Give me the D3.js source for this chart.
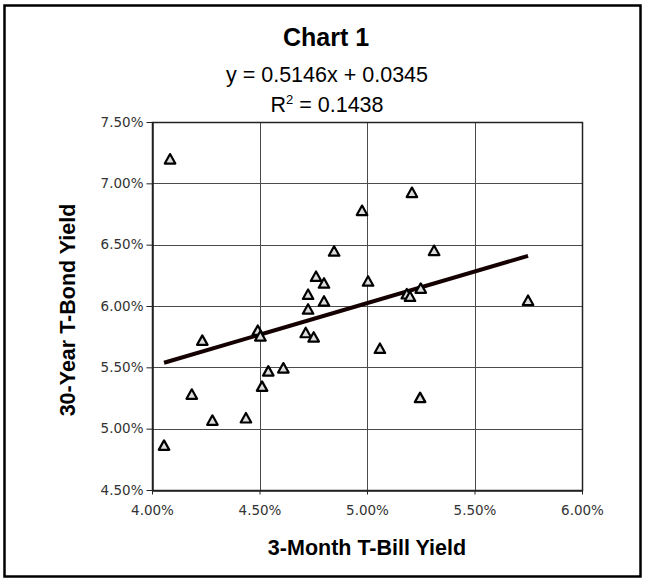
<!DOCTYPE html>
<html>
<head>
<meta charset="utf-8">
<script src="https://cdn.jsdelivr.net/npm/d3@7"></script>
<style>
  html, body { margin: 0; padding: 0; background: #fff; }
  svg { display: block; }
</style>
</head>
<body>
<svg id="chart" width="645" height="579"></svg>
<script>
// ---- data (percent) ----
const tbillYield = [4.056, 4.084, 4.185, 4.234, 4.281, 4.437, 4.492, 4.504, 4.512, 4.541,
                    4.611, 4.715, 4.752, 4.726, 4.726, 4.763, 4.800, 4.800, 4.847, 4.977,
                    5.005, 5.060, 5.185, 5.200, 5.209, 5.250, 5.247, 5.312, 5.749];
const tbondYield = [4.866, 7.200, 5.282, 5.722, 5.070, 5.089, 5.803, 5.757, 5.347, 5.471,
                    5.496, 5.784, 5.748, 5.976, 6.096, 6.243, 6.188, 6.041, 6.449, 6.780,
                    6.204, 5.656, 6.100, 6.080, 6.927, 6.146, 5.255, 6.454, 6.047];
const xTicks = [4.0, 4.5, 5.0, 5.5, 6.0];
const yTicks = [4.5, 5.0, 5.5, 6.0, 6.5, 7.0, 7.5];
const trendSlope = 0.5146;
const trendIntercept = 0.0345;
const rSquared = 0.1438;
const titleText = "Chart 1";
const xTitle = "3-Month T-Bill Yield";
const yTitle = "30-Year T-Bond Yield";

const svg = d3.select("#chart");
const plot = { left: 152, right: 582, top: 122, bottom: 490 };

const x = d3.scaleLinear().domain([4.0, 6.0]).range([plot.left, plot.right]);
const y = d3.scaleLinear().domain([4.5, 7.5]).range([plot.bottom, plot.top]);
const pct = d => d3.format(".2f")(d) + "%";

// outer border
svg.append("rect")
  .attr("x", 4.5).attr("y", 5.5).attr("width", 636).attr("height", 571)
  .attr("fill", "#fff").attr("stroke", "#000").attr("stroke-width", 2.5);

// gridlines
const grid = svg.append("g");
grid.selectAll("line.h").data(yTicks).join("line")
  .attr("x1", plot.left).attr("x2", plot.right)
  .attr("y1", d => Math.round(y(d)) + 0.5).attr("y2", d => Math.round(y(d)) + 0.5)
  .attr("stroke", "#4a4a4a").attr("stroke-width", 1);
grid.selectAll("line.v").data(xTicks).join("line")
  .attr("y1", plot.top).attr("y2", plot.bottom)
  .attr("x1", d => Math.round(x(d)) + 0.5).attr("x2", d => Math.round(x(d)) + 0.5)
  .attr("stroke", "#4a4a4a").attr("stroke-width", 1);

// plot frame
svg.append("rect")
  .attr("x", plot.left + 0.5).attr("y", plot.top + 0.5)
  .attr("width", plot.right - plot.left).attr("height", plot.bottom - plot.top)
  .attr("fill", "none").attr("stroke", "#222").attr("stroke-width", 1.5);

// axes
const tickFont = "'DejaVu Sans', Verdana, sans-serif";
const xAxis = svg.append("g")
  .attr("transform", `translate(0,${plot.bottom + 0.5})`)
  .call(d3.axisBottom(x).tickValues(xTicks).tickFormat(pct).tickSize(4).tickSizeOuter(0));
const yAxis = svg.append("g")
  .attr("transform", `translate(${plot.left + 0.5},0)`)
  .call(d3.axisLeft(y).tickValues(yTicks).tickFormat(pct).tickSize(6).tickSizeOuter(0));
[xAxis, yAxis].forEach(a => {
  a.select(".domain").attr("stroke", "#222").attr("stroke-width", 1.5);
  a.selectAll(".tick line").attr("stroke", "#222");
  a.selectAll(".tick text").attr("font-family", tickFont).attr("font-size", 13.5).attr("fill", "#333");
});
xAxis.selectAll(".tick text").attr("dy", "0").attr("y", 24);
yAxis.selectAll(".tick text").attr("x", -9);

// trend line
const xMin = d3.min(tbillYield), xMax = d3.max(tbillYield);
const trend = [xMin, xMax].map(v => [v, (trendSlope * v / 100 + trendIntercept) * 100]);
svg.append("path")
  .datum(trend)
  .attr("d", d3.line().x(d => x(d[0])).y(d => y(d[1])))
  .attr("fill", "none").attr("stroke", "#140000").attr("stroke-width", 4)
  .attr("stroke-linecap", "butt");

// triangle markers (centered on bounding box, slightly taller than equilateral)
const triType = {
  draw(ctx, size) {
    const w = Math.sqrt(size * 2 / 0.9);
    const h = w * 0.9;
    ctx.moveTo(0, -h / 2);
    ctx.lineTo(w / 2, h / 2);
    ctx.lineTo(-w / 2, h / 2);
    ctx.closePath();
  }
};
const pts = tbillYield.map((v, i) => [v, tbondYield[i]]);
svg.append("g").selectAll("path").data(pts).join("path")
  .attr("transform", d => `translate(${x(d[0])},${y(d[1])})`)
  .attr("d", d3.symbol(triType, 50))
  .attr("fill", "#dcdcdc").attr("stroke", "#000").attr("stroke-width", 2.2)
  .attr("stroke-linejoin", "round");

// titles
const arial = "'Liberation Sans', Arial, Helvetica, sans-serif";
svg.append("text").attr("x", 326).attr("y", 46).attr("text-anchor", "middle")
  .attr("font-family", arial).attr("font-weight", "bold").attr("font-size", 25)
  .attr("fill", "#000").text(titleText);
svg.append("text").attr("x", 327).attr("y", 82).attr("text-anchor", "middle")
  .attr("font-family", arial).attr("font-size", 21.5).attr("fill", "#000")
  .text(`y = ${trendSlope.toFixed(4)}x + ${trendIntercept.toFixed(4)}`);
const r2 = svg.append("text").attr("x", 327).attr("y", 112).attr("text-anchor", "middle")
  .attr("font-family", arial).attr("font-size", 21.5).attr("fill", "#000");
r2.append("tspan").text("R");
r2.append("tspan").attr("font-size", 13).attr("dy", -8).text("2");
r2.append("tspan").attr("dy", 8).text(` = ${rSquared.toFixed(4)}`);

svg.append("text").attr("x", 367).attr("y", 555).attr("text-anchor", "middle")
  .attr("font-family", arial).attr("font-weight", "bold").attr("font-size", 21.5)
  .attr("fill", "#000").text(xTitle);
svg.append("text")
  .attr("transform", `translate(75,${(plot.top + plot.bottom) / 2 + 4}) rotate(-90)`)
  .attr("text-anchor", "middle")
  .attr("font-family", arial).attr("font-weight", "bold").attr("font-size", 21.5)
  .attr("fill", "#000").text(yTitle);
</script>
</body>
</html>
